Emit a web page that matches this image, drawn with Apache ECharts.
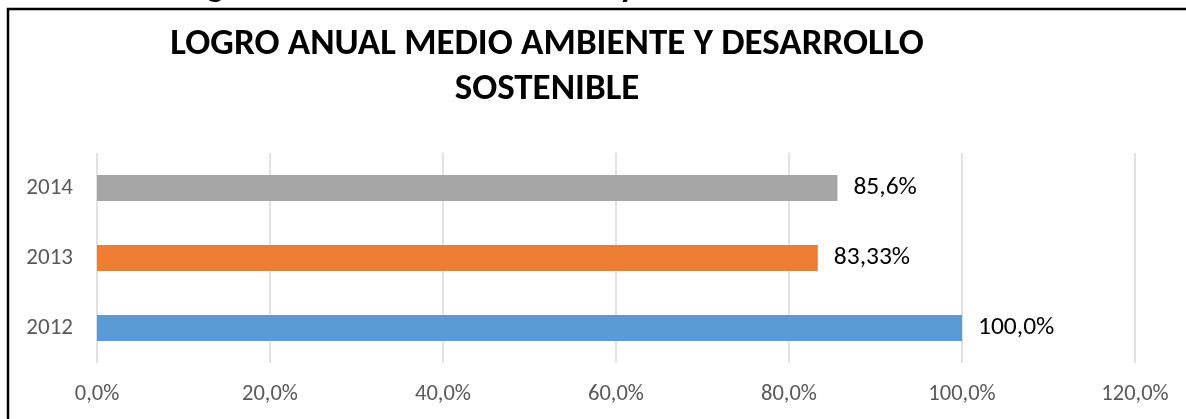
<!DOCTYPE html>
<html>
<head>
<meta charset="utf-8">
<script src="https://cdn.jsdelivr.net/npm/echarts@6/dist/echarts.min.js"></script>
<style>
  html, body { margin: 0; padding: 0; background: #fff; }
  #chart { width: 1186px; height: 419px; }
</style>
</head>
<body>
<div id="chart"></div>
<script>
// Years shown on the category axis (bottom to top)
const years = ['2012', '2013', '2014'];
// Annual achievement, percent
const achievement = [100, 83.33, 85.6];
// Value labels as printed next to each bar
const valueLabels = ['100,0%', '83,33%', '85,6%'];
// Bar colours per year
const barColors = ['#5B9BD5', '#ED7D31', '#A5A5A5'];
// Value axis range
const axisMin = 0, axisMax = 120, axisStep = 20;

const chart = echarts.init(document.getElementById('chart'), null, { renderer: 'canvas' });

const font = 'Calibri, Carlito, Lato, "Open Sans", sans-serif';

chart.setOption({
  animation: false,
  backgroundColor: '#ffffff',
  title: {
    text: 'LOGRO ANUAL MEDIO AMBIENTE Y DESARROLLO\nSOSTENIBLE',
    left: 542,
    top: 17,
    textAlign: 'center',
    textStyle: {
      fontFamily: font,
      fontWeight: 'bold',
      fontSize: 37,
      lineHeight: 45,
      color: '#000000'
    }
  },
  graphic: [
    {
      type: 'text',
      x: 22,
      y: 5,
      style: {
        text: 'Gráfico 5. Logro Anual Medio Ambiente y desarrollo Sostenible',
        font: 'bold 36px ' + font,
        fill: '#000000',
        verticalAlign: 'bottom'
      }
    },
    {
      type: 'rect',
      shape: { x: 8, y: 9, width: 1300, height: 500 },
      style: { fill: 'none', stroke: '#000000', lineWidth: 2.5 }
    }
  ],
  grid: { left: 97, right: 51, top: 153, bottom: 56, containLabel: false },
  xAxis: {
    type: 'value',
    min: axisMin,
    max: axisMax,
    interval: axisStep,
    axisLine: { show: false },
    axisTick: { show: false },
    splitLine: { lineStyle: { color: '#D9D9D9', width: 1.5 } },
    axisLabel: {
      margin: 20,
      fontFamily: font,
      fontSize: 22.5,
      color: '#595959',
      formatter: v => v.toFixed(1).replace('.', ',') + '%'
    }
  },
  yAxis: {
    type: 'category',
    data: years,
    axisLine: { show: false },
    axisTick: { show: false },
    axisLabel: {
      margin: 24,
      fontFamily: font,
      fontSize: 23,
      color: '#595959'
    }
  },
  series: [{
    type: 'bar',
    barWidth: '37%',
    data: achievement.map((v, i) => ({
      value: v,
      itemStyle: { color: barColors[i] }
    })),
    label: {
      show: true,
      position: 'right',
      distance: 16,
      fontFamily: font,
      fontSize: 25.5,
      color: '#000000',
      formatter: p => valueLabels[p.dataIndex]
    }
  }]
});
</script>
</body>
</html>
